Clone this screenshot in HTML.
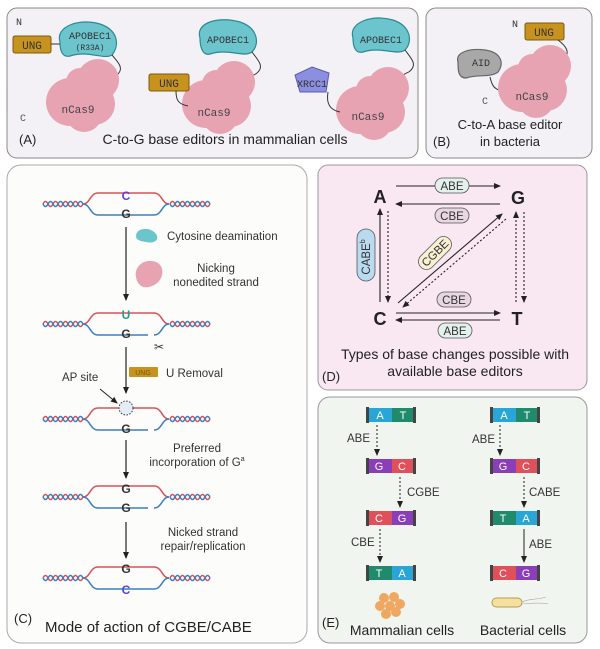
<!DOCTYPE html>
<html><head><meta charset="utf-8"><style>
body{margin:0;background:#fff;}
svg{display:block;font-family:"Liberation Sans",sans-serif;}
.mono{font-family:"Liberation Mono",monospace;}
</style></head><body>
<svg width="600" height="649" viewBox="0 0 600 649" xmlns="http://www.w3.org/2000/svg">
<defs>
<g id="dna" fill="none" stroke-width="1.5">
<path d="M-83,0 q2.5,-5 5,0 t5,0 t5,0 t5,0 t5,0 t5,0 t5,0 t5,0" stroke="#d9505a"/>
<path d="M-83,0 q2.5,5 5,0 t5,0 t5,0 t5,0 t5,0 t5,0 t5,0 t5,0" stroke="#3a7fc0"/>
<path d="M44,0 q2.5,-5 5,0 t5,0 t5,0 t5,0 t5,0 t5,0 t5,0 t5,0" stroke="#d9505a"/>
<path d="M44,0 q2.5,5 5,0 t5,0 t5,0 t5,0 t5,0 t5,0 t5,0 t5,0" stroke="#3a7fc0"/>
<path d="M-43,0 C-36,0 -36,-11 -28,-11 H28 C36,-11 36,0 43,0" stroke="#d9505a"/>
<path d="M-43,0 C-36,0 -36,11 -28,11 H28 C36,11 36,0 43,0" stroke="#3a7fc0"/>
</g>
<g id="cas" fill="#e8a3b3">
<circle cx="0" cy="0" r="21"/><circle cx="-18" cy="2" r="14"/><circle cx="-28" cy="22" r="24"/><circle cx="-4" cy="24" r="21"/><circle cx="-14" cy="34" r="18"/>
</g>
<marker id="ah" markerWidth="8" markerHeight="8" refX="6" refY="3" orient="auto" markerUnits="userSpaceOnUse"><path d="M0,0 L7,3 L0,6z" fill="#222"/></marker>
</defs>

<!-- Panel A -->
<rect x="7" y="8" width="411" height="150" rx="10" fill="#f3f1f6" stroke="#888" stroke-width="1"/>
<rect x="426" y="8" width="166" height="150" rx="10" fill="#f3f1f6" stroke="#888" stroke-width="1"/>
<text x="16" y="25" class="mono" font-size="10" fill="#333">N</text>
<text x="20" y="121" class="mono" font-size="10" fill="#555">C</text>
<path d="M60,42 C55,26 80,18 100,24 C118,30 120,45 112,55 C104,60 88,50 70,56 C62,58 60,50 60,42z" fill="#6cc4cc" stroke="#2a8a96" stroke-width="1.2"/>
<text x="90" y="39" class="mono" font-size="10" fill="#333" text-anchor="middle">APOBEC1</text>
<text x="90" y="50" class="mono" font-size="8" fill="#333" text-anchor="middle">(R33A)</text>
<rect x="13" y="36" width="38" height="17" rx="2" fill="#c8921e" stroke="#7a5a10"/>
<text x="32" y="49" class="mono" font-size="11" fill="#333" text-anchor="middle">UNG</text>
<path d="M51,44 H60" stroke="#333" fill="none"/>
<path d="M112,55 C118,62 124,68 118,74 C115,78 112,76 110,80" stroke="#333" fill="none"/>
<use href="#cas" x="98" y="80"/>
<text x="78" y="113" class="mono" font-size="11" fill="#444" text-anchor="middle">nCas9</text>

<path d="M200,38 C195,22 220,16 240,22 C258,28 260,44 252,52 C244,58 228,48 210,54 C202,56 200,46 200,38z" fill="#6cc4cc" stroke="#2a8a96" stroke-width="1.2"/>
<text x="228" y="43" class="mono" font-size="10" fill="#333" text-anchor="middle">APOBEC1</text>
<path d="M252,52 C258,60 264,66 258,72 C255,76 252,74 250,78" stroke="#333" fill="none"/>
<use href="#cas" x="234" y="82"/>
<rect x="149" y="74" width="40" height="17" rx="2" fill="#c8921e" stroke="#7a5a10"/>
<text x="169" y="87" class="mono" font-size="11" fill="#333" text-anchor="middle">UNG</text>
<path d="M176,91 C176,100 178,104 188,106" stroke="#333" fill="none"/>
<text x="214" y="116" class="mono" font-size="11" fill="#444" text-anchor="middle">nCas9</text>

<path d="M353,38 C348,22 373,14 393,20 C411,26 413,42 405,50 C397,56 381,46 363,52 C355,54 353,46 353,38z" fill="#6cc4cc" stroke="#2a8a96" stroke-width="1.2"/>
<text x="381" y="43" class="mono" font-size="10" fill="#333" text-anchor="middle">APOBEC1</text>
<path d="M405,50 C411,58 417,64 411,70 C408,74 405,72 403,76" stroke="#333" fill="none"/>
<use href="#cas" x="388" y="88"/>
<polygon points="312,67 329,73 326,92 300,92 295,75" fill="#8c8ee0" stroke="#5a5cb0"/>
<text x="312" y="87" class="mono" font-size="10" fill="#333" text-anchor="middle">XRCC1</text>
<path d="M328,92 C326,104 330,110 340,112" stroke="#333" fill="none"/>
<text x="368" y="120" class="mono" font-size="11" fill="#444" text-anchor="middle">nCas9</text>
<text x="19" y="144" font-size="13" fill="#222">(A)</text>
<text x="225" y="144" font-size="14" fill="#222" text-anchor="middle">C-to-G base editors in mammalian cells</text>

<!-- Panel B -->
<text x="512" y="27" class="mono" font-size="10" fill="#333">N</text>
<rect x="525" y="23" width="39" height="17" rx="2" fill="#c8921e" stroke="#7a5a10"/>
<text x="544" y="36" class="mono" font-size="11" fill="#333" text-anchor="middle">UNG</text>
<path d="M558,40 C566,46 570,52 565,58" stroke="#333" fill="none"/>
<path d="M458,62 C455,52 470,48 485,50 C500,52 505,62 498,72 C490,78 478,74 466,78 C458,78 458,70 458,62z" fill="#a8a8a8" stroke="#666" stroke-width="1.2"/>
<text x="481" y="66" class="mono" font-size="10" fill="#333" text-anchor="middle">AID</text>
<path d="M490,77 C492,86 494,90 506,92" stroke="#333" fill="none"/>
<use href="#cas" x="550" y="66"/>
<text x="532" y="100" class="mono" font-size="11" fill="#444" text-anchor="middle">nCas9</text>
<text x="482" y="104" class="mono" font-size="10" fill="#555">C</text>
<text x="510" y="129" font-size="13" fill="#222" text-anchor="middle">C-to-A base editor</text>
<text x="510" y="146" font-size="13" fill="#222" text-anchor="middle">in bacteria</text>
<text x="433" y="146" font-size="13" fill="#222">(B)</text>

<!-- Panel C -->
<rect x="7" y="165" width="300" height="478" rx="14" fill="#fcfcfa" stroke="#aaa"/>
<use href="#dna" x="126" y="204"/>
<text x="126" y="200" font-size="12" fill="#5a3fe0" text-anchor="middle" font-weight="bold">C</text>
<text x="126" y="218" font-size="12" fill="#333" text-anchor="middle" font-weight="bold">G</text>
<line x1="126" y1="227" x2="126" y2="300" stroke="#222" stroke-width="1.2" marker-end="url(#ah)"/>
<path d="M136,236 C136,228 150,226 156,234 C160,240 154,244 146,242 C140,241 136,240 136,236z" fill="#6cc4cc"/>
<text x="167" y="240" font-size="11.5" fill="#333">Cytosine deamination</text>
<path d="M136,277 C134,265 146,258 156,262 C166,266 164,282 152,286 C142,290 137,284 136,277z" fill="#e8a3b3"/>
<text x="216" y="272" font-size="11.5" fill="#333" text-anchor="middle">Nicking</text>
<text x="216" y="286" font-size="11.5" fill="#333" text-anchor="middle">nonedited strand</text>

<use href="#dna" x="126" y="324"/>
<rect x="148" y="332" width="6" height="6" fill="#fcfcfa"/>
<text x="126" y="319" font-size="12" fill="#2a9a8a" text-anchor="middle" font-weight="bold">U</text>
<text x="126" y="338" font-size="12" fill="#333" text-anchor="middle" font-weight="bold">G</text>
<text x="154" y="351" font-size="12" fill="#333">✂</text>
<line x1="126" y1="347" x2="126" y2="393" stroke="#222" stroke-width="1.2" marker-end="url(#ah)"/>
<rect x="129" y="367" width="29" height="10" rx="1" fill="#c8921e"/>
<text x="143" y="375" font-size="7" fill="#7a5a10" text-anchor="middle">UNG</text>
<text x="166" y="377" font-size="11.5" fill="#333">U Removal</text>
<text x="62" y="381" font-size="11.5" fill="#333">AP site</text>
<line x1="100" y1="389" x2="117" y2="403" stroke="#222" stroke-width="1" marker-end="url(#ah)"/>

<use href="#dna" x="126" y="419"/>
<rect x="148" y="427" width="6" height="6" fill="#fcfcfa"/>
<circle cx="126" cy="408" r="7" fill="#e4ecf6" stroke="#333" stroke-dasharray="1.5,1.5"/>
<text x="126" y="433" font-size="12" fill="#333" text-anchor="middle" font-weight="bold">G</text>
<line x1="126" y1="440" x2="126" y2="478" stroke="#222" stroke-width="1.2" marker-end="url(#ah)"/>
<text x="197" y="452" font-size="11.5" fill="#333" text-anchor="middle">Preferred</text>
<text x="197" y="466" font-size="11.5" fill="#333" text-anchor="middle">incorporation of G<tspan font-size="7" dy="-5">a</tspan></text>

<use href="#dna" x="126" y="497"/>
<rect x="148" y="505" width="6" height="6" fill="#fcfcfa"/>
<text x="126" y="493" font-size="12" fill="#333" text-anchor="middle" font-weight="bold">G</text>
<text x="126" y="512" font-size="12" fill="#333" text-anchor="middle" font-weight="bold">G</text>
<line x1="126" y1="522" x2="126" y2="558" stroke="#222" stroke-width="1.2" marker-end="url(#ah)"/>
<text x="203" y="536" font-size="11.5" fill="#333" text-anchor="middle">Nicked strand</text>
<text x="203" y="550" font-size="11.5" fill="#333" text-anchor="middle">repair/replication</text>

<use href="#dna" x="126" y="578"/>
<text x="126" y="573" font-size="12" fill="#333" text-anchor="middle" font-weight="bold">G</text>
<text x="126" y="594" font-size="12" fill="#5a3fe0" text-anchor="middle" font-weight="bold">C</text>
<text x="14" y="623" font-size="13" fill="#222">(C)</text>
<text x="45" y="632" font-size="15" fill="#222">Mode of action of CGBE/CABE</text>

<!-- Panel D -->
<rect x="318" y="165" width="269" height="225" rx="10" fill="#f9e8f2" stroke="#999"/>
<g font-weight="bold" font-size="18" fill="#222" text-anchor="middle">
<text x="380" y="203">A</text><text x="518" y="204">G</text><text x="380" y="325">C</text><text x="517" y="325">T</text>
</g>
<g stroke="#222" stroke-width="1.1" fill="none">
<line x1="396" y1="186" x2="500" y2="186" marker-end="url(#ah)"/>
<line x1="500" y1="204" x2="396" y2="204" marker-end="url(#ah)"/>
<line x1="396" y1="313" x2="500" y2="313" marker-end="url(#ah)"/>
<line x1="500" y1="320" x2="396" y2="320" marker-end="url(#ah)"/>
<line x1="380" y1="302" x2="380" y2="209" marker-end="url(#ah)"/>
<line x1="388" y1="211" x2="388" y2="302" stroke-dasharray="2,2" marker-end="url(#ah)"/>
<line x1="398" y1="303" x2="502" y2="214" marker-end="url(#ah)"/>
<line x1="506" y1="219" x2="403" y2="307" stroke-dasharray="2,2" marker-end="url(#ah)"/>
<line x1="516" y1="302" x2="516" y2="212" stroke-dasharray="2,2" marker-end="url(#ah)"/>
<line x1="524" y1="212" x2="524" y2="302" stroke-dasharray="2,2" marker-end="url(#ah)"/>
</g>
<g font-size="11.5" fill="#333" text-anchor="middle" stroke-width="0.8">
<rect x="435" y="178" width="34" height="15" rx="7.5" fill="#e3f1ec" stroke="#555"/><text x="452" y="190">ABE</text>
<rect x="435" y="208" width="34" height="15" rx="7.5" fill="#e8d6e0" stroke="#555"/><text x="452" y="220">CBE</text>
<rect x="437" y="292" width="34" height="15" rx="7.5" fill="#e8d6e0" stroke="#555"/><text x="454" y="304">CBE</text>
<rect x="438" y="323" width="34" height="15" rx="7.5" fill="#e3f1ec" stroke="#555"/><text x="455" y="335">ABE</text>
<g transform="translate(435,253) rotate(-45)"><rect x="-20" y="-8" width="40" height="16" rx="8" fill="#f7f0d2" stroke="#555"/><text x="0" y="4">CGBE</text></g>
<g transform="translate(366,255) rotate(-90)"><rect x="-26" y="-9" width="52" height="18" rx="9" fill="#b9dbef" stroke="#555"/><text x="-2" y="4">CABE<tspan font-size="7" dy="-5">b</tspan></text></g>
</g>
<text x="455" y="359" font-size="14" fill="#222" text-anchor="middle">Types of base changes  possible with</text>
<text x="455" y="376" font-size="14" fill="#222" text-anchor="middle">available base editors</text>
<text x="322" y="381" font-size="13" fill="#222">(D)</text>

<!-- Panel E -->
<rect x="318" y="397" width="269" height="246" rx="12" fill="#f1f5ef" stroke="#999"/>
<g font-size="11" fill="#fff" text-anchor="middle">
<g transform="translate(367,408)"><rect x="0" y="0" width="25" height="14" fill="#2aa6d6"/><rect x="25" y="0" width="23" height="14" fill="#1f8a6c"/><rect x="-1" y="-1" width="3" height="16" fill="#444"/><rect x="46" y="-1" width="3" height="16" fill="#444"/><text x="13" y="11">A</text><text x="36" y="11">T</text></g>
<g transform="translate(367,459)"><rect x="0" y="0" width="25" height="14" fill="#8a3fb8"/><rect x="25" y="0" width="23" height="14" fill="#e0505a"/><rect x="-1" y="-1" width="3" height="16" fill="#444"/><rect x="46" y="-1" width="3" height="16" fill="#444"/><text x="12" y="11">G</text><text x="35" y="11">C</text></g>
<g transform="translate(367,511)"><rect x="0" y="0" width="25" height="14" fill="#e0505a"/><rect x="25" y="0" width="23" height="14" fill="#8a3fb8"/><rect x="-1" y="-1" width="3" height="16" fill="#444"/><rect x="46" y="-1" width="3" height="16" fill="#444"/><text x="12" y="11">C</text><text x="35" y="11">G</text></g>
<g transform="translate(367,566)"><rect x="0" y="0" width="25" height="14" fill="#1f8a6c"/><rect x="25" y="0" width="23" height="14" fill="#2aa6d6"/><rect x="-1" y="-1" width="3" height="16" fill="#444"/><rect x="46" y="-1" width="3" height="16" fill="#444"/><text x="12" y="11">T</text><text x="35" y="11">A</text></g>
<g transform="translate(491,408)"><rect x="0" y="0" width="25" height="14" fill="#2aa6d6"/><rect x="25" y="0" width="23" height="14" fill="#1f8a6c"/><rect x="-1" y="-1" width="3" height="16" fill="#444"/><rect x="46" y="-1" width="3" height="16" fill="#444"/><text x="13" y="11">A</text><text x="36" y="11">T</text></g>
<g transform="translate(491,459)"><rect x="0" y="0" width="25" height="14" fill="#8a3fb8"/><rect x="25" y="0" width="23" height="14" fill="#e0505a"/><rect x="-1" y="-1" width="3" height="16" fill="#444"/><rect x="46" y="-1" width="3" height="16" fill="#444"/><text x="12" y="11">G</text><text x="35" y="11">C</text></g>
<g transform="translate(491,511)"><rect x="0" y="0" width="25" height="14" fill="#1f8a6c"/><rect x="25" y="0" width="23" height="14" fill="#2aa6d6"/><rect x="-1" y="-1" width="3" height="16" fill="#444"/><rect x="46" y="-1" width="3" height="16" fill="#444"/><text x="12" y="11">T</text><text x="35" y="11">A</text></g>
<g transform="translate(491,566)"><rect x="0" y="0" width="25" height="14" fill="#e0505a"/><rect x="25" y="0" width="23" height="14" fill="#8a3fb8"/><rect x="-1" y="-1" width="3" height="16" fill="#444"/><rect x="46" y="-1" width="3" height="16" fill="#444"/><text x="12" y="11">C</text><text x="35" y="11">G</text></g>
</g>
<g stroke="#222" stroke-width="1" fill="none" stroke-dasharray="2,2">
<line x1="377" y1="425" x2="377" y2="455" marker-end="url(#ah)"/>
<line x1="400" y1="477" x2="400" y2="507" marker-end="url(#ah)"/>
<line x1="380" y1="529" x2="380" y2="562" marker-end="url(#ah)"/>
<line x1="500" y1="425" x2="500" y2="455" marker-end="url(#ah)"/>
<line x1="524" y1="477" x2="524" y2="507" marker-end="url(#ah)"/>
</g>
<line x1="524" y1="529" x2="524" y2="562" stroke="#222" stroke-width="1" marker-end="url(#ah)"/>
<g font-size="11.5" fill="#333">
<text x="347" y="442">ABE</text><text x="407" y="496">CGBE</text><text x="351" y="546">CBE</text>
<text x="472" y="443">ABE</text><text x="529" y="496">CABE</text><text x="529" y="548">ABE</text>
</g>
<g fill="#f0a860">
<circle cx="384" cy="598" r="5"/><circle cx="394" cy="597" r="5"/><circle cx="380" cy="606" r="5"/><circle cx="390" cy="606" r="5"/><circle cx="400" cy="604" r="5"/><circle cx="386" cy="614" r="5"/><circle cx="396" cy="612" r="5"/>
</g>
<rect x="492" y="598" width="30" height="9" rx="4.5" fill="#f5e0a0" stroke="#b89a50"/>
<path d="M522,602 C530,598 538,600 546,597 M522,603 C532,604 540,602 548,604" stroke="#aaa" fill="none" stroke-width="0.6"/>
<text x="322" y="627" font-size="13" fill="#222">(E)</text>
<text x="402" y="635" font-size="14" fill="#222" text-anchor="middle">Mammalian cells</text>
<text x="523" y="635" font-size="14" fill="#222" text-anchor="middle">Bacterial cells</text>
</svg>
</body></html>
